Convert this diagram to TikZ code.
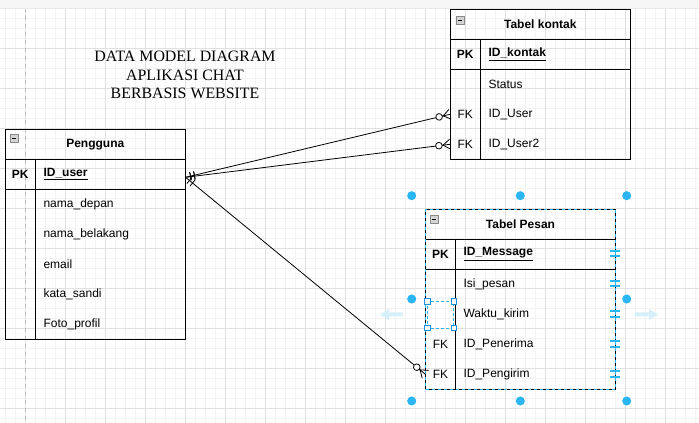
\documentclass[tikz,border=0pt]{standalone}
\usepackage{fontspec}
\setmainfont{Liberation Sans}
\newfontfamily\titlefont{Liberation Serif}
\usetikzlibrary{decorations.markings}
\definecolor{gmin}{HTML}{F3F3F3}
\definecolor{gmaj}{HTML}{E0E0E0}
\definecolor{pagedash}{HTML}{BDBDBD}
\definecolor{sel}{HTML}{29B6F2}
\definecolor{selhandle}{HTML}{1A8FDC}
\definecolor{selfade}{HTML}{D6EFFB}
\definecolor{iconfill}{HTML}{D4D4D4}
\definecolor{iconedge}{HTML}{8A8A8A}
\tikzset{
  tbl/.style={draw=black, line width=0.75pt},
  txt/.style={font=\fontsize{9pt}{11pt}\selectfont, inner sep=0pt, anchor=west},
  keytxt/.style={font=\fontsize{9pt}{11pt}\selectfont\bfseries, inner sep=0pt},
  fktxt/.style={font=\fontsize{9pt}{11pt}\selectfont, inner sep=0pt},
  keyname/.style={font=\fontsize{9pt}{11pt}\selectfont\bfseries, inner sep=0pt, anchor=west},
  tbltitle/.style={font=\fontsize{9pt}{11pt}\selectfont\bfseries, inner sep=0pt},
  rowcell/.style={inner sep=0pt, minimum height=22.5pt},
  icon/.style={fill=iconfill, draw=iconedge, line width=0.5pt},
  selhd/.style={fill=white, draw=selhandle, line width=0.6pt},
  rel/.style={draw, line width=0.6pt, postaction=decorate, decoration={markings,
    mark=at position 0 with {\draw[line width=0.6pt] (3.75pt,-3pt)--(3.75pt,3pt) (6.75pt,-3pt)--(6.75pt,3pt);},
    mark=at position 1 with {\draw[line width=0.6pt] (-5.25pt,0)--(0,3.75pt) (-5.25pt,0)--(0,-3.75pt);
      \draw[line width=0.6pt, fill=white] (-8.4pt,0) circle (2.5pt);}}},
}
\begin{document}
\begin{tikzpicture}[x=0.75pt, y=-0.75pt]
\useasboundingbox (0,0) rectangle (699,423);
\fill[white] (0,0) rectangle (699,423);
% grid
\foreach \x in {5,15,...,695} \draw[gmin, line width=0.75pt] (\x,0) -- (\x,423);
\foreach \y in {9,19,...,419} \draw[gmin, line width=0.75pt] (0,\y) -- (699,\y);
\foreach \x in {25,65,...,665} \draw[gmaj, line width=0.75pt] (\x,0) -- (\x,423);
\foreach \y in {9,49,...,409} \draw[gmaj, line width=0.75pt] (0,\y) -- (699,\y);
\draw[pagedash, line width=0.75pt, dash pattern=on 3pt off 3pt] (25,0) -- (25,423);
\fill[gray!7] (0,0) rectangle (699,8);
\draw[gray!18, line width=0.5pt] (0,8) -- (699,8);

% title
\node[font=\titlefont\fontsize{11.9pt}{14pt}\selectfont, align=center, inner sep=0pt] (title) at (185,75) {DATA MODEL DIAGRAM\\APLIKASI CHAT\\BERBASIS WEBSITE};

% ===== Pengguna =====
\draw[tbl] (5.3,129.3) rectangle (185.3,339.3);
\draw[tbl] (5.3,159.3) -- (185.3,159.3) (5.3,189.3) -- (185.3,189.3) (35.3,159.3) -- (35.3,339.3);
\draw[icon] (10,134) rectangle (18,142);
\draw[black, line width=0.6pt] (11.8,138) -- (16.2,138);
\node[tbltitle] (pgT) at (95.3,144.3) {Pengguna};
\node[rowcell, minimum width=135pt] (pgID) at (95.3,174.3) {};
\node[keytxt] (pgPK) at (20.3,174.3) {PK};
\node[keyname] (pgIDt) at (43.3,174.3) {\underline{ID\_user}};
\node[txt] (pg1) at (43.3,204.3) {nama\_depan};
\node[txt] (pg2) at (43.3,234.3) {nama\_belakang};
\node[txt] (pg3) at (43.3,264.3) {email};
\node[txt] (pg4) at (43.3,294.3) {kata\_sandi};
\node[txt] (pg5) at (43.3,324.3) {Foto\_profil};

% ===== Tabel kontak =====
\draw[tbl] (450.3,9.3) rectangle (630.3,159.3);
\draw[tbl] (450.3,39.3) -- (630.3,39.3) (450.3,69.3) -- (630.3,69.3) (480.3,39.3) -- (480.3,159.3);
\draw[icon] (456,16.5) rectangle (464,24.5);
\draw[black, line width=0.6pt] (457.8,20.5) -- (462.2,20.5);
\node[tbltitle] (kT) at (540.3,24.3) {Tabel kontak};
\node[keytxt] (kPK) at (465.3,54.3) {PK};
\node[keyname] (kIDt) at (488.3,54.3) {\underline{ID\_kontak}};
\node[txt] (k1) at (488.3,84.3) {Status};
\node[rowcell, minimum width=135pt] (kUser) at (540.3,114.3) {};
\node[rowcell, minimum width=135pt] (kUser2) at (540.3,144.3) {};
\node[fktxt] (kFK1) at (465.3,114.3) {FK};
\node[txt] (k2) at (488.3,114.3) {ID\_User};
\node[fktxt] (kFK2) at (465.3,144.3) {FK};
\node[txt] (k3) at (488.3,144.3) {ID\_User2};

% ===== selection decorations of Tabel Pesan =====
\foreach \px/\py in {411.7/195.7,520.3/195.7,626.7/195.7,411.7/299,626.7/299,411.7/401,520.3/401,626.7/401}
  \fill[sel] (\px,\py) circle (3.4pt);
\fill[selfade] (380,314.5) -- (389,309) -- (389,312.5) -- (403,312.5) -- (403,316.5) -- (389,316.5) -- (389,320) -- cycle;
\fill[selfade] (658,314.5) -- (649,309) -- (649,312.5) -- (635,312.5) -- (635,316.5) -- (649,316.5) -- (649,320) -- cycle;

% ===== Tabel Pesan =====
\draw[tbl] (425.7,209.3) rectangle (615.3,389.3);
\draw[tbl] (425.7,239.3) -- (615.3,239.3) (425.7,269.3) -- (615.3,269.3) (455.3,239.3) -- (455.3,389.3);
\draw[sel, line width=0.75pt, dash pattern=on 2.25pt off 2.25pt] (425.7,209.3) rectangle (615.3,389.3);
\draw[icon] (430,215) rectangle (438,223);
\draw[black, line width=0.6pt] (431.8,219) -- (436.2,219);
\node[tbltitle] (pT) at (520.5,224.3) {Tabel Pesan};
\node[keytxt] (pPK) at (440.5,254.3) {PK};
\node[keyname] (pIDt) at (463.3,254.3) {\underline{ID\_Message}};
\node[txt] (p1) at (463.3,284.3) {Isi\_pesan};
\node[txt] (p2) at (463.3,314.3) {Waktu\_kirim};
\node[fktxt] (pFK1) at (440.5,344.3) {FK};
\node[txt] (p3) at (463.3,344.3) {ID\_Penerima};
\node[rowcell, minimum width=142.2pt] (pPengirim) at (520.5,374.3) {};
\node[fktxt] (pFK2) at (440.5,374.3) {FK};
\node[txt] (p4) at (463.3,374.3) {ID\_Pengirim};
\foreach \y in {253.5,283.8,314,344,374}
  \draw[sel, line width=1.5pt] (610,\y-2.7) -- (620,\y-2.7) (610,\y+2.7) -- (620,\y+2.7);
% selected cell
\draw[sel, line width=0.6pt, dash pattern=on 2.25pt off 1.5pt] (427.3,301.3) rectangle (453.7,328);
\foreach \px/\py in {427.3/301.3,453.7/301.3,427.3/328,453.7/328}
  \draw[selhd] (\px-2.7,\py-2.7) rectangle (\px+2.7,\py+2.7);

% ===== relationships =====
\draw[rel] ([yshift=-2.25pt]pgID.east) -- (kUser.west);
\draw[rel] ([yshift=-2.25pt]pgID.east) -- (kUser2.west);
\draw[rel] ([yshift=-2.25pt]pgID.east) -- (pPengirim.west);
\end{tikzpicture}
\end{document}
